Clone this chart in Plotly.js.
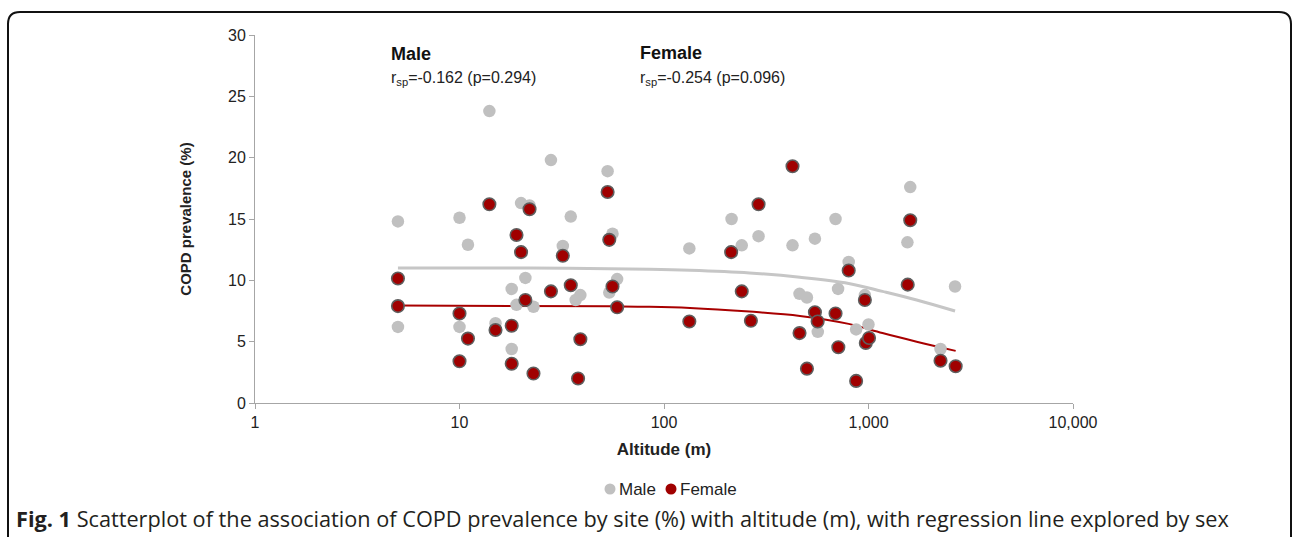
<!DOCTYPE html>
<html>
<head>
<meta charset="utf-8">
<script src="https://cdn.plot.ly/plotly-3.0.1.min.js"></script>
<style>html,body{margin:0;padding:0;background:#fff;}#chart{width:1292px;height:537px;}</style>
</head>
<body>
<div id="chart"></div>
<script>
// Male (grey) points: altitude (m), COPD prevalence (%)
const maleAltitude = [5,5,10,10,11,14,15,18,18,19,20,21,22,23,28,32,35,37,39,53,54,56,59,133,214,240,290,425,460,500,547,565,690,710,800,870,960,1000,1550,1600,2250,2650];
const malePrevalence = [14.8,6.2,15.1,6.2,12.9,23.8,6.5,9.3,4.4,8.0,16.3,10.2,16.1,7.85,19.8,12.8,15.2,8.4,8.8,18.9,9.0,13.8,10.1,12.6,15.0,12.85,13.6,12.85,8.9,8.6,13.4,5.8,15.0,9.3,11.5,6.0,8.8,6.4,13.1,17.6,4.4,9.5];
// Female (red) points
const femaleAltitude = [5,5,10,10,11,14,15,18,18,19,20,21,22,23,28,32,35,38,39,53,54,56,59,133,213,240,266,290,425,460,500,547,564,690,712,800,870,960,970,1006,1555,1600,2250,2668];
const femalePrevalence = [10.15,7.9,7.3,3.4,5.25,16.2,5.95,6.3,3.2,13.7,12.3,8.4,15.8,2.4,9.1,12.0,9.6,2.0,5.2,17.2,13.3,9.5,7.8,6.65,12.3,9.1,6.7,16.2,19.3,5.7,2.8,7.4,6.65,7.3,4.55,10.8,1.8,8.4,4.9,5.3,9.65,14.9,3.45,3.0];
// Regression lines
const maleTrendX = [5,22,85,134,262,462,800,1170,1720,2650];
const maleTrendY = [11.0,11.0,10.9,10.82,10.6,10.25,9.75,9.1,8.4,7.5];
const femaleTrendX = [5,56,85,134,262,462,800,1170,1720,2668];
const femaleTrendY = [7.95,7.88,7.85,7.75,7.45,7.1,6.45,5.7,5.0,4.25];
// Axis ticks
const xTickVals = [1,10,100,1000,10000];
const xTickText = ['1','10','100','1,000','10,000'];
const seriesNames = ['Male', 'Female'];
const seriesColors = ['#c0c0c0', '#a00000'];

const px = v => (v - 255) / 818;   // pixel -> paper x
const py = v => (403 - v) / 368;   // pixel -> paper y

const traces = [
  {x: maleTrendX, y: maleTrendY, type: 'scatter', mode: 'lines', line: {color: '#c6c6c6', width: 3, shape: 'spline'}, showlegend: false, hoverinfo: 'skip'},
  {x: femaleTrendX, y: femaleTrendY, type: 'scatter', mode: 'lines', line: {color: '#a80000', width: 2, shape: 'spline'}, showlegend: false, hoverinfo: 'skip'},
  {x: maleAltitude, y: malePrevalence, name: seriesNames[0], type: 'scatter', mode: 'markers', showlegend: false, marker: {color: seriesColors[0], size: 12.5}},
  {x: femaleAltitude, y: femalePrevalence, name: seriesNames[1], type: 'scatter', mode: 'markers', showlegend: false, marker: {color: seriesColors[1], size: 12.5, line: {color: '#5e5e5e', width: 1.6}}}
];

const fr = 'M ' + px(8) + ',' + py(545) + ' L ' + px(8) + ',' + py(24) + ' Q ' + px(8) + ',' + py(12) + ' ' + px(20) + ',' + py(12) +
  ' L ' + px(1279) + ',' + py(12) + ' Q ' + px(1291) + ',' + py(12) + ' ' + px(1291) + ',' + py(24) + ' L ' + px(1291) + ',' + py(545);

// legend swatch centres (pixels) and label left edges
const legendDotX = [610, 671];
const legendTextX = [617, 678];
const legendY = 489;

const annotations = [
  {xref: 'paper', yref: 'paper', x: px(389), y: py(54), xanchor: 'left', yanchor: 'middle', showarrow: false, text: '<b>Male</b>', font: {family: 'Arial', size: 18, color: '#111'}},
  {xref: 'paper', yref: 'paper', x: px(389), y: py(78), xanchor: 'left', yanchor: 'middle', showarrow: false, text: 'r<sub>sp</sub>=-0.162 (p=0.294)', font: {family: 'Arial', size: 16, color: '#222'}},
  {xref: 'paper', yref: 'paper', x: px(638), y: py(53), xanchor: 'left', yanchor: 'middle', showarrow: false, text: '<b>Female</b>', font: {family: 'Arial', size: 18, color: '#111'}},
  {xref: 'paper', yref: 'paper', x: px(638), y: py(78), xanchor: 'left', yanchor: 'middle', showarrow: false, text: 'r<sub>sp</sub>=-0.254 (p=0.096)', font: {family: 'Arial', size: 16, color: '#222'}},
  {xref: 'paper', yref: 'paper', x: px(14), y: py(518), xanchor: 'left', yanchor: 'middle', showarrow: false,
   text: '<b>Fig. 1</b> Scatterplot of the association of COPD prevalence by site (%) with altitude (m), with regression line explored by sex',
   font: {family: 'Open Sans', size: 21.7, color: '#231f20'}}
];
const shapes = [
  {type: 'path', xref: 'paper', yref: 'paper', path: fr, line: {color: '#111', width: 2}, layer: 'above'}
];
seriesNames.forEach((n, i) => {
  annotations.push({xref: 'paper', yref: 'paper', x: px(legendTextX[i]), y: py(legendY), xanchor: 'left', yanchor: 'middle', showarrow: false, text: n, font: {family: 'Arial', size: 17, color: '#222'}});
  shapes.push({type: 'circle', xref: 'paper', yref: 'paper', x0: px(legendDotX[i] - 5.5), x1: px(legendDotX[i] + 5.5), y0: py(legendY + 5.5), y1: py(legendY - 5.5), fillcolor: seriesColors[i], line: {width: 0}});
});

const layout = {
  width: 1292, height: 537,
  margin: {l: 255, r: 219, t: 35, b: 134},
  paper_bgcolor: '#ffffff', plot_bgcolor: '#ffffff',
  font: {family: 'Arial', size: 16, color: '#222'},
  xaxis: {
    type: 'log', range: [0, 4], tickvals: xTickVals, ticktext: xTickText,
    showgrid: false, zeroline: false, showline: true, linecolor: '#a6a6a6', linewidth: 1,
    ticks: 'outside', ticklen: 5, tickcolor: '#a6a6a6',
    tickfont: {family: 'Arial', size: 16, color: '#222'},
    title: {text: '<b>Altitude (m)</b>', font: {family: 'Arial', size: 17, color: '#222'}, standoff: 12}
  },
  yaxis: {
    range: [0, 30], dtick: 5, showgrid: false, zeroline: false, showline: true, linecolor: '#a6a6a6', linewidth: 1,
    ticks: 'outside', ticklen: 5, tickcolor: '#a6a6a6',
    tickfont: {family: 'Arial', size: 16, color: '#222'},
    title: {text: '<b>COPD prevalence (%)</b>', font: {family: 'Arial', size: 15, color: '#222'}, standoff: 32}
  },
  showlegend: false,
  annotations: annotations,
  shapes: shapes
};

Plotly.newPlot('chart', traces, layout, {displayModeBar: false, staticPlot: true});
</script>
</body>
</html>
